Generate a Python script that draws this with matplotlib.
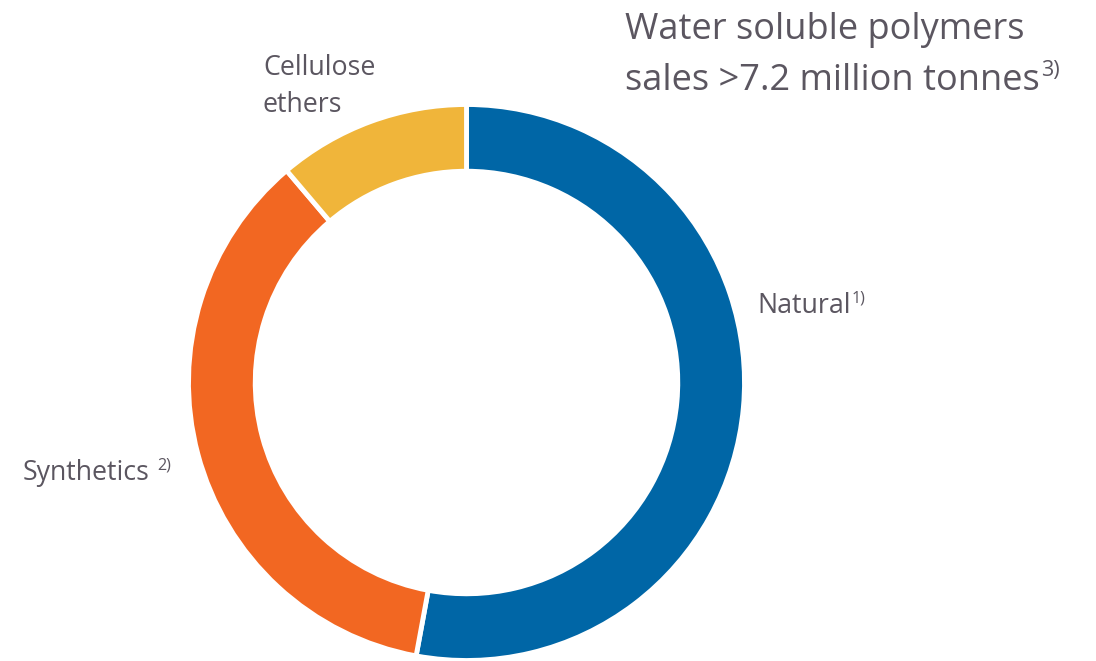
import matplotlib
matplotlib.use('Agg')
import matplotlib.pyplot as plt

# Segment shares (%), clockwise from 12 o'clock
labels = ['Natural', 'Synthetics', 'Cellulose\nethers']
shares = [52.9, 35.9, 11.2]
colors = ['#0066A6', '#F26722', '#F0B53A']
notes = ['1)', '2)', '']

title_lines = ['Water soluble polymers', 'sales >7.2 million tonnes']
title_note = '3)'

W, H = 1096, 661
TXT = '#5B5660'
FONT = 'Open Sans'

fig = plt.figure(figsize=(W / 100, H / 100), dpi=100)
fig.patch.set_facecolor('white')
ax = fig.add_axes([0, 0, 1, 1])
ax.set_xlim(0, W)
ax.set_ylim(0, H)
ax.set_aspect('equal')
ax.axis('off')

R = 278
ax.pie(shares, colors=colors, startangle=90, counterclock=False,
       center=(466.5, H - 382.5), radius=R,
       wedgeprops=dict(width=R * 0.24, edgecolor='white', linewidth=3.5))
ax.set_xlim(0, W)
ax.set_ylim(0, H)


def put(x, y, s, size, note=None, gap=2):
    t = ax.text(x, H - y, s, fontsize=size, color=TXT, family=FONT,
                ha='left', va='baseline')
    if note:
        fig.canvas.draw()
        bb = t.get_window_extent()
        ax.text(bb.x1 + gap, H - y + size * 0.55, note, fontsize=size * 0.6,
                color=TXT, family=FONT, ha='left', va='baseline')
    return t


# title
put(625, 39, title_lines[0], 26)
put(625, 90, title_lines[1], 26, title_note, gap=1)

# segment labels
put(757, 313, labels[0], 19.3, notes[0], gap=1)
put(23, 480, labels[1], 19.3, notes[1], gap=7)
put(263, 112 - 37, labels[2].split('\n')[0], 19.3)
put(263, 112, labels[2].split('\n')[1], 19.3)

fig.savefig('out.png', dpi=100, facecolor='white')
